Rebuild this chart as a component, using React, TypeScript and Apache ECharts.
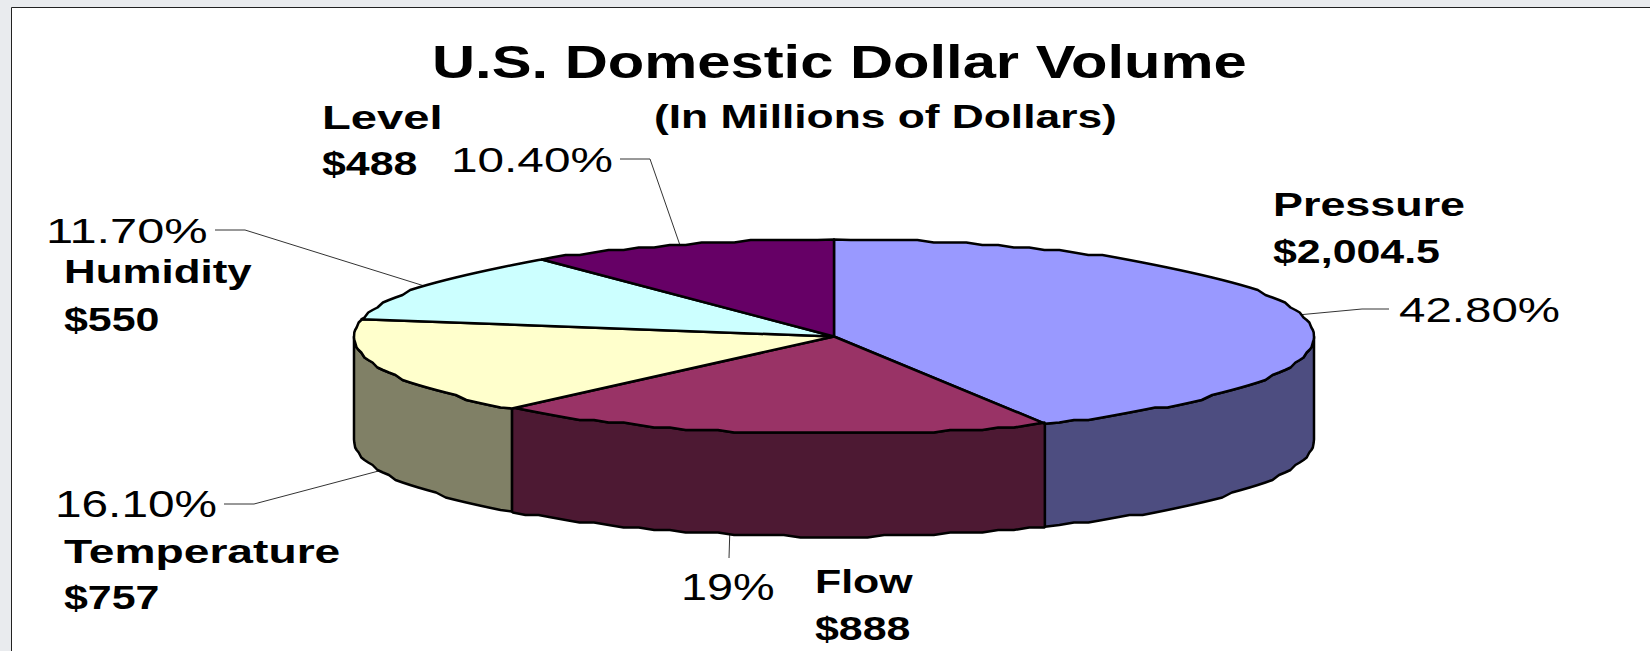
import React, { useEffect, useRef } from "react";
import * as echarts from "echarts";

// ---- data ----
const names = ["Pressure", "Flow", "Temperature", "Humidity", "Level"];
const values = [2004.5, 888, 757, 550, 488];
const dollarLabels = ["$2,004.5", "$888", "$757", "$550", "$488"];
const percentLabels = ["42.80%", "19%", "16.10%", "11.70%", "10.40%"];
const topColors = ["#9999FF", "#993366", "#FFFFCC", "#CCFFFF", "#660066"];
const sideColors = ["#4D4D80", "#4D1933", "#808066", "#668080", "#330033"];
const titleText = "U.S. Domestic Dollar Volume";
const subtitleText = "(In Millions of Dollars)";

// ---- layout ----
const W = 1650, H = 651;
const CX = 834, CY = 336.5, RX = 480, RY = 97, DEPTH = 103;
const FONT = '"Liberation Sans", Arial, sans-serif';
// [x, baseline, horizontal stretch] of each slice's name, dollar and percent text
const namePos = [[1273, 216, 1.36], [815, 593, 1.3], [64, 563, 1.4], [64, 283, 1.33], [322, 129, 1.43]];
const dollarPos = [[1273, 263, 1.3], [815, 640, 1.3], [64, 609, 1.3], [64, 331, 1.3], [322, 175, 1.3]];
const percentPos = [[1399, 322, 1.32], [681, 600, 1.3], [55, 517, 1.327], [46, 243, 1.354], [451, 172, 1.326]];
// leader start and elbow, the end is on the pie rim
const leaderStart = [[1389, 309], [729, 558], [224, 504], [215, 230], [620, 159]];
const leaderElbow = [[1362, 309], [729, 558], [254, 504], [245, 230], [650, 159]];
const leaderAngleShift = [0, 4.5, 0, 0, 0];
// the reference's rim is slightly stepped: vertical grid the curve is snapped to
const GRID_Y = 2.5, ARC_STEP = 2;

const total = values.reduce((a, b) => a + b, 0);
const starts: number[] = [];
values.reduce((acc, v, i) => {
  starts[i] = (acc / total) * 360;
  return acc + v;
}, 0);
const ends = values.map((v, i) => starts[i] + (v / total) * 360);

const pt = (deg: number, dy = 0) => {
  const r = (deg * Math.PI) / 180;
  return [CX + RX * Math.sin(r), CY - RY * Math.cos(r) + dy];
};
const snap = (p: number[]) => [p[0], Math.round(p[1] / GRID_Y) * GRID_Y];
const arc = (a0: number, a1: number, dy = 0) => {
  const first = Math.ceil(a0 / ARC_STEP) * ARC_STEP;
  const out: number[][] = [pt(a0, dy)];
  for (let a = first; a < a1; a += ARC_STEP) {
    if (a > a0) out.push(snap(pt(a, dy)));
  }
  out.push(pt(a1, dy));
  return out;
};

const textEl = (text: string, x: number, base: number, size: number, bold: boolean, scaleX: number) => ({
  type: "text",
  x,
  y: base - size * 0.3465,
  scaleX,
  z: 10,
  style: {
    text,
    x: 0,
    y: 0,
    fill: "#000",
    verticalAlign: "middle",
    align: "left",
    font: `${bold ? "bold " : ""}${size}px ${FONT}`,
  },
});

export default function App() {
  const ref = useRef<HTMLDivElement>(null);
  useEffect(() => {
    const chart = echarts.init(ref.current!, undefined, { renderer: "svg" });

    const stroke = { stroke: "#000", lineWidth: 2.5, lineJoin: "round" };
    const graphic: any[] = [
      { type: "rect", z: 0, shape: { x: 11.5, y: 7.5, width: W, height: H }, style: { fill: "#fff", stroke: "#222", lineWidth: 1 } },
      textEl(titleText, 432, 78, 47, true, 1.27),
      textEl(subtitleText, 654, 128, 33, true, 1.343),
    ];
    names.forEach((n, i) => {
      graphic.push(textEl(n, namePos[i][0], namePos[i][1], 33, true, namePos[i][2]));
      graphic.push(textEl(dollarLabels[i], dollarPos[i][0], dollarPos[i][1], 33, true, dollarPos[i][2]));
      graphic.push(textEl(percentLabels[i], percentPos[i][0], percentPos[i][1], 36, false, percentPos[i][2]));
      const mid = (starts[i] + ends[i]) / 2 + leaderAngleShift[i];
      const front = mid > 90 && mid < 270;
      graphic.push({
        type: "polyline",
        z: 1,
        shape: { points: [leaderStart[i], leaderElbow[i], pt(mid, front ? DEPTH : 0)] },
        style: { stroke: "#333", lineWidth: 1, fill: "none" },
      });
    });

    chart.setOption({
      animation: false,
      backgroundColor: "#E9EBEE",
      graphic,
      series: [
        {
          type: "custom",
          name: "side",
          coordinateSystem: "none",
          z: 2,
          silent: true,
          data: values,
          renderItem: (p: any) => {
            const i = p.dataIndex;
            const a0 = Math.max(starts[i], 90);
            const a1 = Math.min(ends[i], 270);
            if (a1 <= a0) return { type: "group", children: [] };
            const pts = [...arc(a0, a1), ...arc(a0, a1, DEPTH).reverse()];
            return { type: "polygon", shape: { points: pts }, style: { fill: sideColors[i], ...stroke } };
          },
        },
        {
          type: "custom",
          name: "top",
          coordinateSystem: "none",
          z: 3,
          silent: true,
          data: values,
          renderItem: (p: any) => {
            const i = p.dataIndex;
            const pts = [[CX, CY], ...arc(starts[i], ends[i])];
            return { type: "polygon", shape: { points: pts }, style: { fill: topColors[i], ...stroke } };
          },
        },
      ],
    });
    return () => chart.dispose();
  }, []);
  return <div ref={ref} style={{ position: "fixed", left: 0, top: 0, width: W, height: H }} />;
}
